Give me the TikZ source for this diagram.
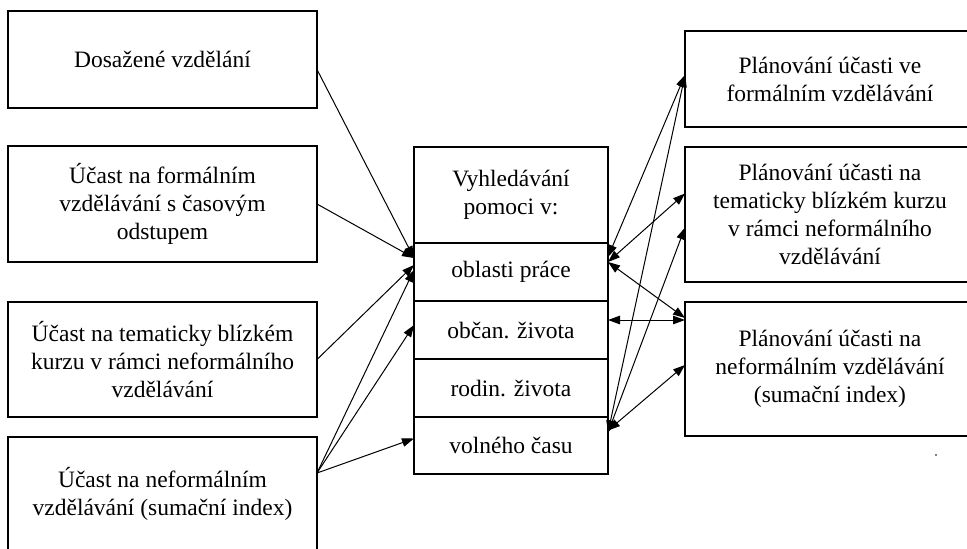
\documentclass[tikz,border=0pt]{standalone}
\usepackage{fontspec}
\setmainfont{Liberation Serif}
\usetikzlibrary{arrows.meta}
\begin{document}
\begin{tikzpicture}[x=1pt,y=-1pt,
        box/.style={draw, line width=1.2pt, align=center, inner sep=0pt, outer sep=0pt, font=\fontsize{23.5}{28}\selectfont},
        sipka/.style={line width=1pt, -{Triangle[length=12pt,width=8.5pt]}},
        obousmer/.style={line width=1pt, {Triangle[length=12pt,width=8.5pt]}-{Triangle[length=12pt,width=8.5pt]}}]
    \clip (0,0) rectangle (967,549);
    \node[box, minimum width=309pt, minimum height=97pt] (dosazene) at (162.5,59.5) {Dosažené vzdělání};
    \node[box, minimum width=309pt, minimum height=116pt] (formalni) at (162.5,204) {Účast na formálním\\vzdělávání s časovým\\odstupem};
    \node[box, minimum width=309pt, minimum height=115pt] (kurz) at (162.5,359.5) {Účast na tematicky blízkém\\kurzu v rámci neformálního\\vzdělávání};
    \node[box, minimum width=309pt, minimum height=136pt] (neformalni) at (162.5,505) {Účast na neformálním\\vzdělávání (sumační index)\\~};
    \node[box, minimum width=194pt, minimum height=96pt] (hledani) at (511,195) {Vyhledávání\\pomoci v:};
    \node[box, minimum width=194pt, minimum height=58pt] (prace) at (511,272) {oblasti práce};
    \node[box, minimum width=194pt, minimum height=58pt] (obcan) at (511,330) {občan. života};
    \node[box, minimum width=194pt, minimum height=58pt] (rodin) at (511,388) {rodin. života};
    \node[box, minimum width=194pt, minimum height=57pt] (volny) at (511,445.5) {volného času};
    \node[box, minimum width=290pt, minimum height=96pt] (planformal) at (830,79) {Plánování účasti ve\\formálním vzdělávání};
    \node[box, minimum width=290pt, minimum height=135pt] (plankurz) at (830,214.5) {Plánování účasti na\\tematicky blízkém kurzu\\v rámci neformálního\\vzdělávání};
    \node[box, minimum width=290pt, minimum height=134pt] (plansuma) at (830,369) {Plánování účasti na\\neformálním vzdělávání\\(sumační index)};
    \draw[sipka] ([yshift=-10pt]dosazene.east) -- ([yshift=14pt]prace.west);
    \draw[sipka] (formalni.east) -- ([yshift=14pt]prace.west);
    \draw[sipka] (kurz.east) -- ([yshift=7pt]prace.west);
    \draw[sipka] ([yshift=32pt]neformalni.east) -- ([yshift=2pt]prace.west);
    \draw[sipka] ([yshift=32pt]neformalni.east) -- ([yshift=5pt]obcan.west);
    \draw[sipka] ([yshift=32pt]neformalni.east) -- ([yshift=7pt]volny.west);
    \draw[obousmer] ([yshift=15pt]prace.east) -- ([yshift=4pt]planformal.west);
    \draw[obousmer] ([yshift=13pt]volny.east) -- ([yshift=4pt]planformal.west);
    \draw[obousmer] ([yshift=10pt]prace.east) -- ([yshift=21pt]plankurz.west);
    \draw[obousmer] ([yshift=13pt]volny.east) -- ([yshift=-13pt]plankurz.west);
    \draw[obousmer] ([yshift=10pt]prace.east) -- ([yshift=51pt]plansuma.west);
    \draw[obousmer] ([yshift=10pt]obcan.east) -- ([yshift=49pt]plansuma.west);
    \draw[obousmer] ([yshift=15pt]volny.east) -- ([yshift=4pt]plansuma.west);
    \fill (936,455) circle (0.8pt);
\end{tikzpicture}
\end{document}
